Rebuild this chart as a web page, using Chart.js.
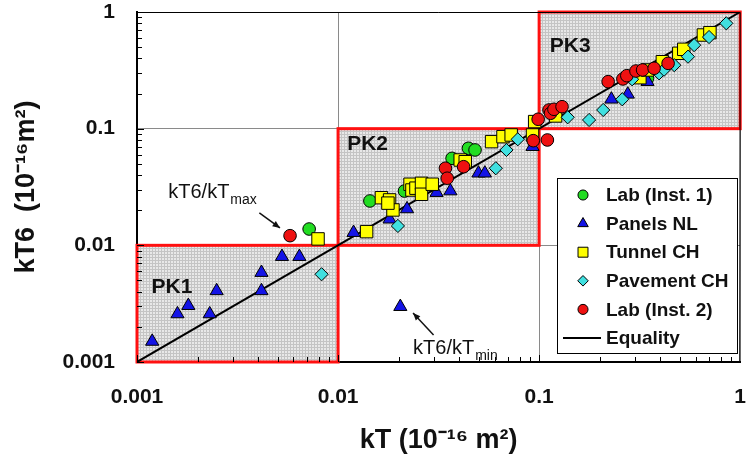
<!DOCTYPE html>
<html><head><meta charset="utf-8">
<script src="https://cdn.jsdelivr.net/npm/chart.js@4"></script>
<style>html,body{margin:0;padding:0;background:#fff}#wrap{width:750px;height:461px}</style>
</head><body><div id="wrap"><canvas id="c" width="750" height="461"></canvas></div>
<script>
// ---- data (kT, kT6) in 1e-16 m2 ----
const labInst1 = [[0.00718,0.0138],[0.0144,0.024],[0.0214,0.0292],[0.0369,0.0557],[0.0445,0.0679],[0.048,0.0657],[0.346,0.2703]];
const panelsNL = [[0.00119,0.0015],[0.00159,0.00258],[0.0018,0.00304],[0.0023,0.00258],[0.00249,0.00407],[0.00416,0.00407],[0.00416,0.00584],[0.00526,0.008],[0.00642,0.008],[0.0204,0.00298],[0.01194,0.01285],[0.01804,0.01674],[0.02203,0.0205],[0.0309,0.0283],[0.0362,0.0292],[0.0499,0.0415],[0.0537,0.0415],[0.0927,0.0701],[0.2287,0.1786],[0.276,0.197],[0.346,0.2529]];
const tunnelCH = [[0.00795,0.01135],[0.01387,0.0131],[0.01643,0.0256],[0.01804,0.0245],[0.01875,0.0201],[0.0177,0.023],[0.0228,0.0334],[0.0233,0.0298],[0.0244,0.0309],[0.026,0.034],[0.026,0.0274],[0.0294,0.0334],[0.0405,0.0539],[0.0429,0.0521],[0.058,0.0774],[0.0661,0.0854],[0.0726,0.0883],[0.0927,0.0883],[0.095,0.115],[0.1208,0.1285],[0.317,0.2735],[0.346,0.3185],[0.41,0.375],[0.495,0.4426],[0.524,0.479],[0.656,0.635],[0.707,0.665]];
const pavementCH = [[0.00828,0.00565],[0.01984,0.01466],[0.0609,0.0458],[0.0688,0.0657],[0.0783,0.0811],[0.1387,0.1252],[0.1772,0.1187],[0.2083,0.1446],[0.259,0.1786],[0.29,0.265],[0.395,0.298],[0.418,0.32],[0.47,0.35],[0.55,0.414],[0.59,0.52],[0.70,0.61],[0.853,0.80]];
const labInst2 = [[0.00577,0.0121],[0.0342,0.0458],[0.0349,0.0376],[0.0421,0.0472],[0.0935,0.0789],[0.1099,0.08],[0.0989,0.1204],[0.112,0.1446],[0.114,0.1355],[0.1185,0.1466],[0.13,0.1543],[0.2204,0.2529],[0.261,0.2667],[0.273,0.2845],[0.303,0.312],[0.327,0.3185],[0.373,0.3293],[0.438,0.363]];
const equalityKT = [0.001, 1];
const equalityKT6 = [0.001, 1];
const seriesNames = ['Lab (Inst. 1)','Panels NL','Tunnel CH','Pavement CH','Lab (Inst. 2)','Equality'];
const xTickValues = [0.001, 0.01, 0.1, 1];
const xTickLabels = ['0.001','0.01','0.1','1'];
const yTickValues = [0.001, 0.01, 0.1, 1];
const yTickLabels = ['0.001','0.01','0.1','1'];
const zoneNames = ['PK1','PK2','PK3'];
const zoneLow = [0.001, 0.01, 0.1];
const zoneHigh = [0.01, 0.1, 1];
const xTitle = 'kT (10\u207B\u00B9\u2076 m\u00B2)';
const yTitle = 'kT6  (10\u207B\u00B9\u2076m\u00B2)';

// ---- layout/style (not data) ----
const FONT = '"Liberation Sans", Arial, sans-serif';
const toPts = a => a.map(p => ({x: p[0], y: p[1]}));
function pat(){
  const c = document.createElement('canvas'); c.width = 3; c.height = 3;
  const g = c.getContext('2d');
  g.fillStyle = '#e8e8e8'; g.fillRect(0,0,3,3);
  g.fillStyle = '#c4c4c4'; g.fillRect(0,2,3,1); g.fillRect(2,0,1,3);
  return g.createPattern(c, 'repeat');
}
const mk = (label, data, color, style, r, order) => ({
  type:'scatter', label, data: toPts(data), backgroundColor: color, borderColor:'#000',
  borderWidth:1, pointStyle: style, pointRadius: r, pointHoverRadius: r, order
});
const datasets = [
  mk(seriesNames[0], labInst1, '#22dd22', 'circle', 6.3, 5),
  mk(seriesNames[1], panelsNL, '#1414e6', 'triangle', 7.6, 4),
  mk(seriesNames[2], tunnelCH, '#ffff00', 'rect', 8.8, 3),
  mk(seriesNames[3], pavementCH, '#40e0e0', 'rectRot', 6.6, 2),
  mk(seriesNames[4], labInst2, '#ee1111', 'circle', 6.3, 1),
  {type:'line', label: seriesNames[5], data: equalityKT.map((v,i)=>({x:v, y:equalityKT6[i]})),
   borderColor:'#000', borderWidth:2, pointRadius:0, fill:false, order: 10}
];

const annotations = [
  {text:'kT6/kT', sub:'max', x:0.00143, y:0.0255, ax0:[0.00406,0.01896], ax1:[0.00514,0.01409]},
  {text:'kT6/kT', sub:'min', x:0.0236, y:0.00118, ax0:[0.02985,0.001706], ax1:[0.0236,0.002636]}
];
const zoneLabelPos = [[0.00118, 0.0039],[0.0111, 0.0654],[0.113, 0.458]];

const plugin = {
  id:'extras',
  beforeDatasetsDraw(chart){
    const {ctx, scales:{x, y}} = chart;
    ctx.save();
    const p = pat();
    zoneLow.forEach((lo,i)=>{
      const x0 = x.getPixelForValue(lo), x1 = x.getPixelForValue(zoneHigh[i]);
      const y0 = y.getPixelForValue(zoneHigh[i]), y1 = y.getPixelForValue(lo);
      ctx.fillStyle = p; ctx.fillRect(x0, y0, x1-x0, y1-y0);
    });
    zoneLow.forEach((lo,i)=>{
      const x0 = x.getPixelForValue(lo), x1 = x.getPixelForValue(zoneHigh[i]);
      const y0 = y.getPixelForValue(zoneHigh[i]), y1 = y.getPixelForValue(lo);
      ctx.strokeStyle = '#ff1010'; ctx.lineWidth = 3; ctx.strokeRect(x0, y0, x1-x0, y1-y0);
    });
    ctx.fillStyle = '#111'; ctx.font = 'bold 21px ' + FONT; ctx.textBaseline = 'alphabetic'; ctx.textAlign = 'left';
    zoneNames.forEach((n,i)=>{
      ctx.fillText(n, x.getPixelForValue(zoneLabelPos[i][0]), y.getPixelForValue(zoneLabelPos[i][1]));
    });
    ctx.restore();
  },
  afterDraw(chart){
    const {ctx, chartArea:a, scales:{x, y}} = chart;
    ctx.save();
    ctx.strokeStyle = '#000'; ctx.lineWidth = 1;
    ctx.beginPath(); ctx.moveTo(a.left, a.top+0.5); ctx.lineTo(a.right, a.top+0.5); ctx.lineTo(a.right-0.5, a.bottom); ctx.stroke();
    ctx.beginPath();
    [0.001,0.01,0.1].forEach(d=>{
      for(let k=1;k<=9;k++){
        const v = k*d, len = k===1?7:5;
        const px = Math.round(x.getPixelForValue(v))+0.5;
        ctx.moveTo(px, a.bottom); ctx.lineTo(px, a.bottom-len);
        const py = Math.round(y.getPixelForValue(v))+0.5;
        ctx.moveTo(a.left, py); ctx.lineTo(a.left+len, py);
      }
    });
    ctx.stroke();
    annotations.forEach(an=>{
      const tx = x.getPixelForValue(an.x), ty = y.getPixelForValue(an.y);
      ctx.fillStyle = '#111'; ctx.textAlign='left'; ctx.textBaseline='alphabetic';
      ctx.font = '20px ' + FONT; ctx.fillText(an.text, tx, ty);
      const w = ctx.measureText(an.text).width;
      ctx.font = '14px ' + FONT; ctx.fillText(an.sub, tx + w + 1, ty + 6);
      const x0 = x.getPixelForValue(an.ax0[0]), y0 = y.getPixelForValue(an.ax0[1]);
      const x1 = x.getPixelForValue(an.ax1[0]), y1 = y.getPixelForValue(an.ax1[1]);
      ctx.strokeStyle = '#111'; ctx.lineWidth = 1.5;
      ctx.beginPath(); ctx.moveTo(x0,y0); ctx.lineTo(x1,y1); ctx.stroke();
      const ang = Math.atan2(y1-y0, x1-x0), L = 8, s = 0.4;
      ctx.fillStyle = '#111'; ctx.beginPath(); ctx.moveTo(x1,y1);
      ctx.lineTo(x1 - L*Math.cos(ang-s), y1 - L*Math.sin(ang-s));
      ctx.lineTo(x1 - L*Math.cos(ang+s), y1 - L*Math.sin(ang+s)); ctx.closePath(); ctx.fill();
    });
    const lx = 557, ly = 178, lw = 180, lh = 175;
    ctx.fillStyle = '#fff'; ctx.fillRect(lx, ly, lw, lh);
    ctx.strokeStyle = '#000'; ctx.lineWidth = 1; ctx.strokeRect(lx+0.5, ly+0.5, lw, lh);
    ctx.font = 'bold 19px ' + FONT; ctx.textBaseline = 'middle'; ctx.textAlign = 'left';
    chart.data.datasets.forEach((ds, i)=>{
      const ry = ly + 17 + i*28.6;
      if (ds.type === 'line') {
        ctx.strokeStyle = '#000'; ctx.lineWidth = 2;
        ctx.beginPath(); ctx.moveTo(lx+6, ry); ctx.lineTo(lx+44, ry); ctx.stroke();
      } else {
        ctx.fillStyle = ds.backgroundColor; ctx.strokeStyle = '#000'; ctx.lineWidth = 1;
        Chart.helpers.drawPoint(ctx, {pointStyle: ds.pointStyle, radius: ds.pointRadius*0.8, rotation:0, borderWidth:1}, lx+26, ry);
      }
      ctx.fillStyle = '#111';
      ctx.fillText(ds.label, lx+49, ry+1);
    });
    ctx.restore();
  }
};

new Chart(document.getElementById('c'), {
  data: {datasets},
  options: {
    responsive:false, animation:false, devicePixelRatio: 1,
    layout:{padding:{top:12, right:3, left:0, bottom:0}},
    plugins:{legend:{display:false}, tooltip:{enabled:false}},
    scales:{
      x:{type:'logarithmic', position:'bottom', min:0.001, max:1,
        afterBuildTicks: s => { s.ticks = xTickValues.map(v=>({value:v})); },
        afterFit: s => { s.height = 99; s.paddingLeft = 0; s.paddingRight = 0; },
        ticks:{autoSkip:false, maxRotation:0, padding:23, color:'#111',
          font:{family:FONT, size:21, weight:'bold'}, callback:(v,i)=>xTickLabels[i]},
        grid:{color:'#8a8a8a', lineWidth:1, drawTicks:false},
        border:{color:'#000', width:2},
        title:{display:true, text:xTitle, color:'#111', font:{family:FONT, size:27, weight:'bold', lineHeight:1.2}, padding:{top:0,bottom:4}}
      },
      y:{type:'logarithmic', position:'left', min:0.001, max:1,
        afterBuildTicks: s => { s.ticks = yTickValues.map(v=>({value:v})); },
        afterFit: s => { s.width = 137; s.paddingTop = 0; s.paddingBottom = 0; },
        ticks:{autoSkip:false, padding:22, color:'#111',
          font:{family:FONT, size:21, weight:'bold'}, callback:(v,i)=>yTickLabels[i]},
        grid:{color:'#8a8a8a', lineWidth:1, drawTicks:false},
        border:{color:'#000', width:2},
        title:{display:true, text:yTitle, color:'#111', font:{family:FONT, size:27, weight:'bold', lineHeight:1.2}, padding:{top:10,bottom:0}}
      }
    }
  },
  plugins:[plugin]
});
</script></body></html>
